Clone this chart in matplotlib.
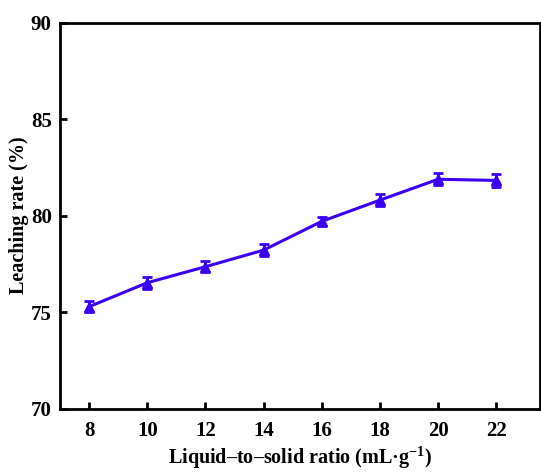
import numpy as np
import matplotlib.pyplot as plt

# dati
ratio = [8, 10, 12, 14, 16, 18, 20, 22]
leaching = [75.28, 76.52, 77.35, 78.21, 79.70, 80.80, 81.88, 81.82]
err = [0.30, 0.32, 0.28, 0.30, 0.25, 0.32, 0.30, 0.35]

plt.rcParams['font.family'] = ['Liberation Serif', 'DejaVu Serif']
plt.rcParams['font.weight'] = 'bold'
plt.rcParams['mathtext.fontset'] = 'custom'
plt.rcParams['mathtext.rm'] = 'Liberation Serif:bold'
plt.rcParams['mathtext.bf'] = 'Liberation Serif:bold'
plt.rcParams['mathtext.default'] = 'bf'

fig = plt.figure(figsize=(5.41, 4.74), dpi=100)
ax = fig.add_axes([0.111, 0.138, 0.887, 0.8145])

color = '#3a00f5'
ax.errorbar(ratio, leaching, yerr=err, color=color, marker='^', markersize=6.5,
            linewidth=2.2, elinewidth=2, capsize=3.5, capthick=2)

ax.set_xlim(7, 23.5)
ax.set_ylim(70, 90)
ax.set_xticks(ratio)
ax.set_yticks([70, 75, 80, 85, 90])

for s in ax.spines.values():
    s.set_linewidth(2)
ax.tick_params(direction='in', width=2, length=5, labelsize=15)
ax.tick_params(axis='x', pad=9)
ax.tick_params(axis='y', pad=6)
for lab in ax.get_xticklabels() + ax.get_yticklabels():
    lab.set_fontweight('bold')

ax.set_xlabel('Liquid\u2013to\u2013solid ratio (mL\u00b7g$^{\u22121}$)', fontsize=14.5,
              fontweight='bold', labelpad=3)
ax.set_ylabel('Leaching rate (%)', fontsize=14.5, fontweight='bold', labelpad=1)

fig.savefig('out.png', dpi=100)
